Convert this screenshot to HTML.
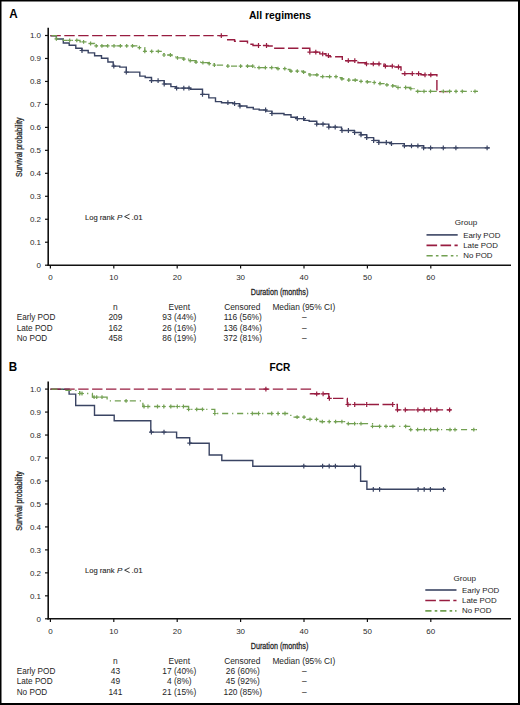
<!DOCTYPE html>
<html><head><meta charset="utf-8"><title>Survival by POD</title>
<style>
html,body{margin:0;padding:0;background:#fff;}
body{width:520px;height:705px;overflow:hidden;}
svg{display:block;font-family:"Liberation Sans",sans-serif;}
</style></head>
<body>
<svg width="520" height="705" viewBox="0 0 520 705">
<rect x="0" y="0" width="520" height="705" fill="#fff"/>
<text x="9.3" y="17.6" font-size="12.4" font-weight="bold" fill="#000" textLength="8.4" lengthAdjust="spacingAndGlyphs">A</text>
<text x="280" y="18.9" font-size="10" font-weight="bold" fill="#000" text-anchor="middle" textLength="62.2" lengthAdjust="spacingAndGlyphs">All regimens</text>
<line x1="48.2" y1="27.8" x2="48.2" y2="265.9" stroke="#111" stroke-width="1.6"/>
<line x1="47.4" y1="265.2" x2="511" y2="265.2" stroke="#111" stroke-width="1.4"/>
<g stroke="#111" stroke-width="1.2"><line x1="45" y1="265.2" x2="48.2" y2="265.2"/><line x1="45" y1="242.23" x2="48.2" y2="242.23"/><line x1="45" y1="219.26" x2="48.2" y2="219.26"/><line x1="45" y1="196.29" x2="48.2" y2="196.29"/><line x1="45" y1="173.32" x2="48.2" y2="173.32"/><line x1="45" y1="150.35" x2="48.2" y2="150.35"/><line x1="45" y1="127.38" x2="48.2" y2="127.38"/><line x1="45" y1="104.41" x2="48.2" y2="104.41"/><line x1="45" y1="81.44" x2="48.2" y2="81.44"/><line x1="45" y1="58.47" x2="48.2" y2="58.47"/><line x1="45" y1="35.5" x2="48.2" y2="35.5"/><line x1="50.4" y1="265.2" x2="50.4" y2="268.5"/><line x1="113.8" y1="265.2" x2="113.8" y2="268.5"/><line x1="177.2" y1="265.2" x2="177.2" y2="268.5"/><line x1="240.6" y1="265.2" x2="240.6" y2="268.5"/><line x1="304" y1="265.2" x2="304" y2="268.5"/><line x1="367.4" y1="265.2" x2="367.4" y2="268.5"/><line x1="430.8" y1="265.2" x2="430.8" y2="268.5"/></g>
<g font-size="8" fill="#2a2a2a" text-anchor="end"><text x="41" y="268.1">0</text><text x="41" y="245.13">0.1</text><text x="41" y="222.16">0.2</text><text x="41" y="199.19">0.3</text><text x="41" y="176.22">0.4</text><text x="41" y="153.25">0.5</text><text x="41" y="130.28">0.6</text><text x="41" y="107.31">0.7</text><text x="41" y="84.34">0.8</text><text x="41" y="61.37">0.9</text><text x="41" y="38.4">1.0</text><text x="50.4" y="280.2" text-anchor="middle">0</text><text x="113.8" y="280.2" text-anchor="middle">10</text><text x="177.2" y="280.2" text-anchor="middle">20</text><text x="240.6" y="280.2" text-anchor="middle">30</text><text x="304" y="280.2" text-anchor="middle">40</text><text x="367.4" y="280.2" text-anchor="middle">50</text><text x="430.8" y="280.2" text-anchor="middle">60</text></g>
<text x="250.7" y="294.9" font-size="9.8" fill="#262626" stroke="#262626" stroke-width="0.3" textLength="57.6" lengthAdjust="spacingAndGlyphs">Duration (months)</text>
<text transform="translate(22.4 177.1) rotate(-90)" font-size="8.9" fill="#262626" stroke="#262626" stroke-width="0.3" textLength="59.6" lengthAdjust="spacingAndGlyphs">Survival probability</text>
<g font-size="8" fill="#262626" stroke="#262626" stroke-width="0.1"><text x="85" y="219.7" textLength="29.6" lengthAdjust="spacingAndGlyphs">Log rank</text><text x="117.1" y="219.7" font-style="italic">P</text><text x="131.6" y="219.7">.01</text></g>
<path d="M129.6 214.2L124.6 216.6L129.6 219" fill="none" stroke="#262626" stroke-width="0.9"/>
<text x="466" y="225.2" font-size="8.1" fill="#1e1e1e" text-anchor="middle">Group</text>
<line x1="426.5" y1="234.9" x2="457.7" y2="234.9" stroke="#3a4463" stroke-width="1.6"/>
<line x1="426.5" y1="245.4" x2="457.7" y2="245.4" stroke="#981c40" stroke-width="1.6" stroke-dasharray="10.6 3.4"/>
<line x1="426.5" y1="255.8" x2="457.7" y2="255.8" stroke="#72a052" stroke-width="1.6" stroke-dasharray="6.2 3.2 2.6 2.9"/>
<g font-size="7.9" fill="#1e1e1e"><text x="463.2" y="237.9">Early POD</text><text x="463.2" y="248.1">Late POD</text><text x="463.2" y="258.2">No POD</text></g>
<path d="M50.4 35.7H56.4V39H63.3V43H69.2V45.3H75.8V48.2H81.9V50.5H88.2V52.9H94.6V55.7H101.5V58.2H107.9V62H113.2V66.1H119.8V67.1H126.3V72.1H139.8V76.1H145.2V77.5H151.5V80.6H164.2V84H170.9V86.6H175.8V88.1H190.7V89.2H202.5V94.4H208.8V97.9H215.5V101.6H221.5V102.7H233V103.6H239.4V106H246.9V107.5H253.3V109.1H259.2V110H266.1V111.1H271.9V113.5H284V114.8H291V117.3H297.3V118.6H304.2V120.4H309.2V121.3H316.7V124.1H328.8V127.1H341.5V130.5H354.4V132.5H361V134.8H366.7V137.6H373.6V140.5H378.8V142.5H391V143.6H404.3V145.8H423.6V147.9H489.8" fill="none" stroke="#3a4463" stroke-width="1.4"/><path d="M82 48.1v4.8M79.6 50.5h4.8M113.8 63.7v4.8M111.4 66.1h4.8M126.3 69.7v4.8M123.9 72.1h4.8M151.5 78.2v4.8M149.1 80.6h4.8M158.1 78.2v4.8M155.7 80.6h4.8M164.2 81.6v4.8M161.8 84h4.8M176.6 85.7v4.8M174.2 88.1h4.8M183.8 85.7v4.8M181.4 88.1h4.8M189 85.7v4.8M186.6 88.1h4.8M202.5 92v4.8M200.1 94.4h4.8M227.9 100.3v4.8M225.5 102.7h4.8M234.6 101.2v4.8M232.2 103.6h4.8M240 103.6v4.8M237.6 106h4.8M265.6 107.6v4.8M263.2 110h4.8M271.9 111.1v4.8M269.5 113.5h4.8M297.3 116.2v4.8M294.9 118.6h4.8M303.6 116.2v4.8M301.2 118.6h4.8M316.7 121.7v4.8M314.3 124.1h4.8M323 121.7v4.8M320.6 124.1h4.8M328.8 124.7v4.8M326.4 127.1h4.8M335.2 124.7v4.8M332.8 127.1h4.8M342 128.1v4.8M339.6 130.5h4.8M348.4 128.1v4.8M346 130.5h4.8M354.6 130.1v4.8M352.2 132.5h4.8M361 132.4v4.8M358.6 134.8h4.8M366.7 135.2v4.8M364.3 137.6h4.8M373.6 138.1v4.8M371.2 140.5h4.8M378.8 140.1v4.8M376.4 142.5h4.8M386.3 140.1v4.8M383.9 142.5h4.8M391.5 141.2v4.8M389.1 143.6h4.8M404.4 143.4v4.8M402 145.8h4.8M411.5 143.4v4.8M409.1 145.8h4.8M417.9 143.4v4.8M415.5 145.8h4.8M423.6 145.5v4.8M421.2 147.9h4.8M430.6 145.5v4.8M428.2 147.9h4.8M443.3 145.5v4.8M440.9 147.9h4.8M455.9 145.5v4.8M453.5 147.9h4.8M487.1 145.5v4.8M484.7 147.9h4.8" fill="none" stroke="#3a4463" stroke-width="1.2"/>
<path d="M50.4 35.6H227.7V39.8H234.6V41.2H247.5V44.2H253V45.5H268V46H272.9V48.2H309.8V52.1H319.8V53.8H326V55.6H330V56.7H342.3V60.7H358V62.7H366V63.9H384V66.1H395V67H401V73.6H421V74.8H436.9V91.6H448.3" fill="none" stroke="#981c40" stroke-width="1.4" stroke-dasharray="10.4 3.5"/><path d="M221.3 33.2v4.8M218.9 35.6h4.8M258.5 43.1v4.8M256.1 45.5h4.8M266.5 43.1v4.8M264.1 45.5h4.8M309.8 49.7v4.8M307.4 52.1h4.8M315.8 49.7v4.8M313.4 52.1h4.8M322.7 51.4v4.8M320.3 53.8h4.8M328.4 53.2v4.8M326 55.6h4.8M348.3 58.3v4.8M345.9 60.7h4.8M354.8 58.3v4.8M352.4 60.7h4.8M366.5 61.5v4.8M364.1 63.9h4.8M373.3 61.5v4.8M370.9 63.9h4.8M379 61.5v4.8M376.6 63.9h4.8M385.4 63.7v4.8M383 66.1h4.8M392.3 63.7v4.8M389.9 66.1h4.8M398.5 64.6v4.8M396.1 67h4.8M404.8 71.2v4.8M402.4 73.6h4.8M412.3 71.2v4.8M409.9 73.6h4.8M418.6 71.2v4.8M416.2 73.6h4.8M425 72.4v4.8M422.6 74.8h4.8M430.8 72.4v4.8M428.4 74.8h4.8" fill="none" stroke="#981c40" stroke-width="1.2"/>
<path d="M50.4 35.7H56.4V38.8H63.3V40.4H80V41.8H87.1V43.5H94.5V45.8H137.5V47.6H144.8V51.4H164V55H172V56.8H177.5V57.8H183.8V59.2H190.2V60.7H196V62.1H202.9V62.6H209.2V63.6H214.4V65.1H227.7V66.1H255V67.7H277V68.6H286V69.5H290V71.2H303V72.1H309V74.8H321V76.7H338V77.6H341.9V78.8H348.8V80.1H361V81.3H367.3V81.9H374.2V82.5H380V83.6H386.9V84.8H392.7V85.9H396V87.5H410.8V88.7H415V91.4H478" fill="none" stroke="#72a052" stroke-width="1.3" stroke-dasharray="6.1 3.9 1.2 3.8" stroke-dashoffset="-1"/><path d="M56.4 36.9v3.8M54.5 38.8h3.8M69.7 38.5v3.8M67.8 40.4h3.8M76.8 38.5v3.8M74.9 40.4h3.8M83.6 39.9v3.8M81.7 41.8h3.8M90.6 41.6v3.8M88.7 43.5h3.8M96.2 43.9v3.8M94.3 45.8h3.8M101.9 43.9v3.8M100 45.8h3.8M107.7 43.9v3.8M105.8 45.8h3.8M114 43.9v3.8M112.1 45.8h3.8M120.4 43.9v3.8M118.5 45.8h3.8M126.7 43.9v3.8M124.8 45.8h3.8M132.5 43.9v3.8M130.6 45.8h3.8M139.4 45.7v3.8M137.5 47.6h3.8M144.8 49.5v3.8M142.9 51.4h3.8M151.7 49.5v3.8M149.8 51.4h3.8M158.3 49.5v3.8M156.4 51.4h3.8M164 53.1v3.8M162.1 55h3.8M170.4 53.1v3.8M168.5 55h3.8M177.5 55.9v3.8M175.6 57.8h3.8M183.8 57.3v3.8M181.9 59.2h3.8M190.2 58.8v3.8M188.3 60.7h3.8M196 60.2v3.8M194.1 62.1h3.8M202.9 60.7v3.8M201 62.6h3.8M209.2 61.7v3.8M207.3 63.6h3.8M214.4 63.2v3.8M212.5 65.1h3.8M227.9 64.2v3.8M226 66.1h3.8M240.6 64.2v3.8M238.7 66.1h3.8M247.5 64.2v3.8M245.6 66.1h3.8M252.7 64.2v3.8M250.8 66.1h3.8M259 65.8v3.8M257.1 67.7h3.8M265.4 65.8v3.8M263.5 67.7h3.8M271.7 65.8v3.8M269.8 67.7h3.8M278 66.7v3.8M276.1 68.6h3.8M284.8 66.7v3.8M282.9 68.6h3.8M291 69.3v3.8M289.1 71.2h3.8M297.3 69.3v3.8M295.4 71.2h3.8M303.6 70.2v3.8M301.7 72.1h3.8M310 72.9v3.8M308.1 74.8h3.8M316.9 72.9v3.8M315 74.8h3.8M322.7 74.8v3.8M320.8 76.7h3.8M329.6 74.8v3.8M327.7 76.7h3.8M336 74.8v3.8M334.1 76.7h3.8M341.9 76.9v3.8M340 78.8h3.8M348.8 78.2v3.8M346.9 80.1h3.8M355.2 78.2v3.8M353.3 80.1h3.8M361 79.4v3.8M359.1 81.3h3.8M367.3 80v3.8M365.4 81.9h3.8M374.2 80.6v3.8M372.3 82.5h3.8M380 81.7v3.8M378.1 83.6h3.8M386.9 82.9v3.8M385 84.8h3.8M392.7 84v3.8M390.8 85.9h3.8M398 85.6v3.8M396.1 87.5h3.8M405.6 85.6v3.8M403.7 87.5h3.8M410.8 86.8v3.8M408.9 88.7h3.8M417.7 89.5v3.8M415.8 91.4h3.8M424 89.5v3.8M422.1 91.4h3.8M430.5 89.5v3.8M428.6 91.4h3.8M443.3 89.5v3.8M441.4 91.4h3.8M449.6 89.5v3.8M447.7 91.4h3.8M456 89.5v3.8M454.1 91.4h3.8M462.3 89.5v3.8M460.4 91.4h3.8M475 89.5v3.8M473.1 91.4h3.8" fill="none" stroke="#72a052" stroke-width="1.2"/>
<g font-size="8.4" fill="#1e1e1e"><text x="115.4" y="309.6" text-anchor="middle">n</text><text x="179.3" y="309.6" text-anchor="middle">Event</text><text x="242.3" y="309.6" text-anchor="middle">Censored</text><text x="303.8" y="309.6" text-anchor="middle">Median (95% CI)</text><text x="16.7" y="320.2" font-size="8.2">Early POD</text><text x="115.4" y="320.2" text-anchor="middle">209</text><text x="179.3" y="320.2" text-anchor="middle">93 (44%)</text><text x="242.8" y="320.2" text-anchor="middle">116 (56%)</text><text x="304.4" y="320.2" text-anchor="middle">&#8211;</text><text x="16.7" y="330.6" font-size="8.2">Late POD</text><text x="115.4" y="330.6" text-anchor="middle">162</text><text x="179.3" y="330.6" text-anchor="middle">26 (16%)</text><text x="242.8" y="330.6" text-anchor="middle">136 (84%)</text><text x="304.4" y="330.6" text-anchor="middle">&#8211;</text><text x="16.7" y="340.9" font-size="8.2">No POD</text><text x="115.4" y="340.9" text-anchor="middle">458</text><text x="179.3" y="340.9" text-anchor="middle">86 (19%)</text><text x="242.8" y="340.9" text-anchor="middle">372 (81%)</text><text x="304.4" y="340.9" text-anchor="middle">&#8211;</text></g>
<text x="8.8" y="371.3" font-size="12.4" font-weight="bold" fill="#000" textLength="8.4" lengthAdjust="spacingAndGlyphs">B</text>
<text x="280" y="371" font-size="10" font-weight="bold" fill="#000" text-anchor="middle" textLength="20.8" lengthAdjust="spacingAndGlyphs">FCR</text>
<line x1="48.2" y1="381.4" x2="48.2" y2="619.5" stroke="#111" stroke-width="1.6"/>
<line x1="47.4" y1="618.8" x2="511" y2="618.8" stroke="#111" stroke-width="1.4"/>
<g stroke="#111" stroke-width="1.2"><line x1="45" y1="618.8" x2="48.2" y2="618.8"/><line x1="45" y1="595.83" x2="48.2" y2="595.83"/><line x1="45" y1="572.86" x2="48.2" y2="572.86"/><line x1="45" y1="549.89" x2="48.2" y2="549.89"/><line x1="45" y1="526.92" x2="48.2" y2="526.92"/><line x1="45" y1="503.95" x2="48.2" y2="503.95"/><line x1="45" y1="480.98" x2="48.2" y2="480.98"/><line x1="45" y1="458.01" x2="48.2" y2="458.01"/><line x1="45" y1="435.04" x2="48.2" y2="435.04"/><line x1="45" y1="412.07" x2="48.2" y2="412.07"/><line x1="45" y1="389.1" x2="48.2" y2="389.1"/><line x1="50.4" y1="618.8" x2="50.4" y2="622.1"/><line x1="113.8" y1="618.8" x2="113.8" y2="622.1"/><line x1="177.2" y1="618.8" x2="177.2" y2="622.1"/><line x1="240.6" y1="618.8" x2="240.6" y2="622.1"/><line x1="304" y1="618.8" x2="304" y2="622.1"/><line x1="367.4" y1="618.8" x2="367.4" y2="622.1"/><line x1="430.8" y1="618.8" x2="430.8" y2="622.1"/></g>
<g font-size="8" fill="#2a2a2a" text-anchor="end"><text x="41" y="621.7">0</text><text x="41" y="598.73">0.1</text><text x="41" y="575.76">0.2</text><text x="41" y="552.79">0.3</text><text x="41" y="529.82">0.4</text><text x="41" y="506.85">0.5</text><text x="41" y="483.88">0.6</text><text x="41" y="460.91">0.7</text><text x="41" y="437.94">0.8</text><text x="41" y="414.97">0.9</text><text x="41" y="392">1.0</text><text x="50.4" y="633.8" text-anchor="middle">0</text><text x="113.8" y="633.8" text-anchor="middle">10</text><text x="177.2" y="633.8" text-anchor="middle">20</text><text x="240.6" y="633.8" text-anchor="middle">30</text><text x="304" y="633.8" text-anchor="middle">40</text><text x="367.4" y="633.8" text-anchor="middle">50</text><text x="430.8" y="633.8" text-anchor="middle">60</text></g>
<text x="250.7" y="648.5" font-size="9.8" fill="#262626" stroke="#262626" stroke-width="0.3" textLength="57.6" lengthAdjust="spacingAndGlyphs">Duration (months)</text>
<text transform="translate(22.4 530.7) rotate(-90)" font-size="8.9" fill="#262626" stroke="#262626" stroke-width="0.3" textLength="59.6" lengthAdjust="spacingAndGlyphs">Survival probability</text>
<g font-size="8" fill="#262626" stroke="#262626" stroke-width="0.1"><text x="85" y="573.3" textLength="29.6" lengthAdjust="spacingAndGlyphs">Log rank</text><text x="117.1" y="573.3" font-style="italic">P</text><text x="131.6" y="573.3">.01</text></g>
<path d="M129.6 567.8L124.6 570.2L129.6 572.6" fill="none" stroke="#262626" stroke-width="0.9"/>
<text x="464.8" y="580.8" font-size="8.1" fill="#1e1e1e" text-anchor="middle">Group</text>
<line x1="425.3" y1="590" x2="456.5" y2="590" stroke="#3a4463" stroke-width="1.6"/>
<line x1="425.3" y1="600.5" x2="456.5" y2="600.5" stroke="#981c40" stroke-width="1.6" stroke-dasharray="10.6 3.4"/>
<line x1="425.3" y1="610.9" x2="456.5" y2="610.9" stroke="#72a052" stroke-width="1.6" stroke-dasharray="6.2 3.2 2.6 2.9"/>
<g font-size="7.9" fill="#1e1e1e"><text x="462" y="592.9">Early POD</text><text x="462" y="603.1">Late POD</text><text x="462" y="613.2">No POD</text></g>
<path d="M50.4 389.2H69.1V394.1H75.7V405.5H94.5V415.3H114.2V420.8H150.8V432.1H176.6V437.8H189.7V443.2H209.2V455H221.8V460.5H252.8V466.2H360.6V481.3H366.9V489.3H445" fill="none" stroke="#3a4463" stroke-width="1.4"/><path d="M151.4 429.7v4.8M149 432.1h4.8M164 429.7v4.8M161.6 432.1h4.8M189.7 440.8v4.8M187.3 443.2h4.8M303.8 463.8v4.8M301.4 466.2h4.8M322.6 463.8v4.8M320.2 466.2h4.8M329.2 463.8v4.8M326.8 466.2h4.8M335.4 463.8v4.8M333 466.2h4.8M354.6 463.8v4.8M352.2 466.2h4.8M373.3 486.9v4.8M370.9 489.3h4.8M379.6 486.9v4.8M377.2 489.3h4.8M418.1 486.9v4.8M415.7 489.3h4.8M424.2 486.9v4.8M421.8 489.3h4.8M430.4 486.9v4.8M428 489.3h4.8M443.5 486.9v4.8M441.1 489.3h4.8" fill="none" stroke="#3a4463" stroke-width="1.2"/>
<path d="M50.4 389.1H310.4V393.8H328.8V398.4H347.3V404.5H397.3V409.9H451" fill="none" stroke="#981c40" stroke-width="1.4" stroke-dasharray="10.4 3.5"/><path d="M265.9 386.7v4.8M263.5 389.1h4.8M316.7 391.4v4.8M314.3 393.8h4.8M323.1 391.4v4.8M320.7 393.8h4.8M329.4 396v4.8M327 398.4h4.8M347.9 402.1v4.8M345.5 404.5h4.8M354.7 402.1v4.8M352.3 404.5h4.8M366.7 402.1v4.8M364.3 404.5h4.8M392.7 402.1v4.8M390.3 404.5h4.8M397.5 407.5v4.8M395.1 409.9h4.8M405.3 407.5v4.8M402.9 409.9h4.8M417.9 407.5v4.8M415.5 409.9h4.8M424.2 407.5v4.8M421.8 409.9h4.8M430.6 407.5v4.8M428.2 409.9h4.8M436.9 407.5v4.8M434.5 409.9h4.8M449.6 407.5v4.8M447.2 409.9h4.8" fill="none" stroke="#981c40" stroke-width="1.2"/>
<path d="M50.4 389.2H63.6V390.3H79.7V393.5H92.4V397.1H107.1V400.8H142.9V406.5H188.6V409.4H214.8V413.5H290.8V417.1H306V419.3H320V421.6H346V423.6H372.5V426.4H409.6V429.6H477" fill="none" stroke="#72a052" stroke-width="1.3" stroke-dasharray="6.1 3.9 1.2 3.8" stroke-dashoffset="-1"/><path d="M79.7 391.6v3.8M77.8 393.5h3.8M82 391.6v3.8M80.1 393.5h3.8M94.1 395.2v3.8M92.2 397.1h3.8M96.7 395.2v3.8M94.8 397.1h3.8M102 395.2v3.8M100.1 397.1h3.8M126.1 398.9v3.8M124.2 400.8h3.8M144 404.6v3.8M142.1 406.5h3.8M148 404.6v3.8M146.1 406.5h3.8M157.5 404.6v3.8M155.6 406.5h3.8M163.8 404.6v3.8M161.9 406.5h3.8M170.8 404.6v3.8M168.9 406.5h3.8M177.3 404.6v3.8M175.4 406.5h3.8M183.4 404.6v3.8M181.5 406.5h3.8M188.6 407.5v3.8M186.7 409.4h3.8M196.7 407.5v3.8M194.8 409.4h3.8M202.5 407.5v3.8M200.6 409.4h3.8M214.8 411.6v3.8M212.9 413.5h3.8M252.3 411.6v3.8M250.4 413.5h3.8M258.6 411.6v3.8M256.7 413.5h3.8M271.7 411.6v3.8M269.8 413.5h3.8M278.1 411.6v3.8M276.2 413.5h3.8M285 411.6v3.8M283.1 413.5h3.8M297.1 415.2v3.8M295.2 417.1h3.8M304 415.2v3.8M302.1 417.1h3.8M310 417.4v3.8M308.1 419.3h3.8M316.5 417.4v3.8M314.6 419.3h3.8M322.3 419.7v3.8M320.4 421.6h3.8M329.2 419.7v3.8M327.3 421.6h3.8M335.6 419.7v3.8M333.7 421.6h3.8M341.9 419.7v3.8M340 421.6h3.8M348.3 421.7v3.8M346.4 423.6h3.8M354.6 421.7v3.8M352.7 423.6h3.8M361 421.7v3.8M359.1 423.6h3.8M372.5 424.5v3.8M370.6 426.4h3.8M379.6 424.5v3.8M377.7 426.4h3.8M386 424.5v3.8M384.1 426.4h3.8M392.9 424.5v3.8M391 426.4h3.8M405.6 424.5v3.8M403.7 426.4h3.8M410.7 427.7v3.8M408.8 429.6h3.8M417.6 427.7v3.8M415.7 429.6h3.8M424.4 427.7v3.8M422.5 429.6h3.8M430.6 427.7v3.8M428.7 429.6h3.8M437.5 427.7v3.8M435.6 429.6h3.8M450 427.7v3.8M448.1 429.6h3.8M455 427.7v3.8M453.1 429.6h3.8M473.8 427.7v3.8M471.9 429.6h3.8" fill="none" stroke="#72a052" stroke-width="1.2"/>
<g font-size="8.4" fill="#1e1e1e"><text x="115.4" y="663.9" text-anchor="middle">n</text><text x="179.3" y="663.9" text-anchor="middle">Event</text><text x="242.3" y="663.9" text-anchor="middle">Censored</text><text x="303.8" y="663.9" text-anchor="middle">Median (95% CI)</text><text x="16.7" y="673.8" font-size="8.2">Early POD</text><text x="115.4" y="673.8" text-anchor="middle">43</text><text x="179.3" y="673.8" text-anchor="middle">17 (40%)</text><text x="242.8" y="673.8" text-anchor="middle">26 (60%)</text><text x="304.4" y="673.8" text-anchor="middle">&#8211;</text><text x="16.7" y="684.2" font-size="8.2">Late POD</text><text x="115.4" y="684.2" text-anchor="middle">49</text><text x="179.3" y="684.2" text-anchor="middle">4 (8%)</text><text x="242.8" y="684.2" text-anchor="middle">45 (92%)</text><text x="304.4" y="684.2" text-anchor="middle">&#8211;</text><text x="16.7" y="694.8" font-size="8.2">No POD</text><text x="115.4" y="694.8" text-anchor="middle">141</text><text x="179.3" y="694.8" text-anchor="middle">21 (15%)</text><text x="242.8" y="694.8" text-anchor="middle">120 (85%)</text><text x="304.4" y="694.8" text-anchor="middle">&#8211;</text></g>
<g fill="#000"><rect x="0" y="0" width="520" height="1.5"/><rect x="0" y="0" width="1.5" height="705"/><rect x="518" y="0" width="2" height="705"/><rect x="0" y="703" width="520" height="2"/></g>
</svg>
</body></html>
